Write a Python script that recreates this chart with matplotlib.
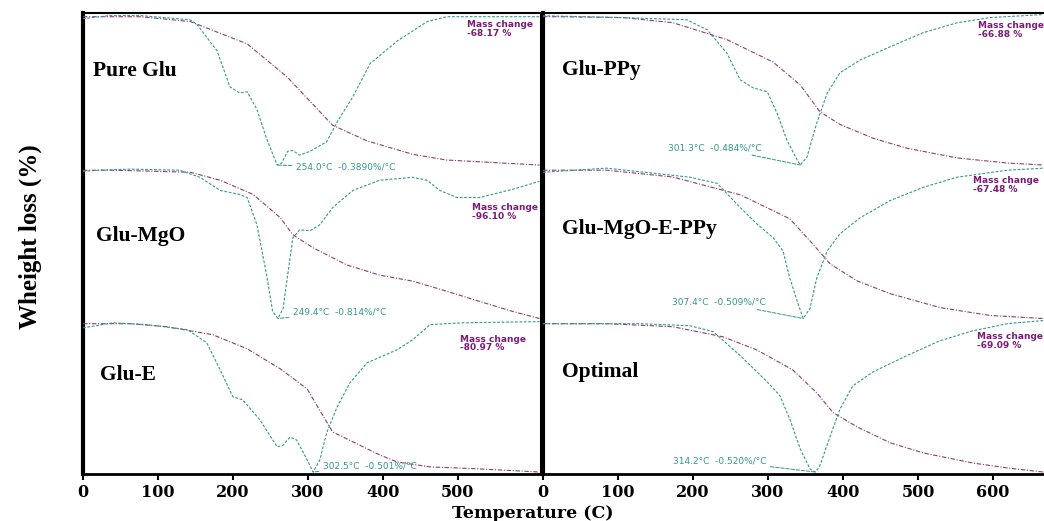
import matplotlib.pyplot as plt

# ---- values (T in C, TG in wt %, DTG in %/C) ----
names = ["Pure Glu", "Glu-MgO", "Glu-E", "Glu-PPy", "Glu-MgO-E-PPy", "Optimal"]
mass_change = ["-68.17", "-96.10", "-80.97", "-66.88", "-67.48", "-69.09"]
peak_temp = ["254.0", "249.4", "302.5", "301.3", "307.4", "314.2"]
peak_rate = ["-0.3890", "-0.814", "-0.501", "-0.484", "-0.509", "-0.520"]

# Pure Glu
pg_tg_T = [0, 76, 143, 219, 272, 333, 379, 440, 485, 609]
pg_tg = [100, 100, 97.8, 87.5, 72.4, 50.1, 42.9, 36.7, 34.1, 31.8]
pg_dtg_T = [0, 36, 76, 143, 152, 179, 196, 209, 219, 232, 245, 259, 265, 273,
            280, 289, 303, 325, 339, 360, 383, 419, 459, 485, 609]
pg_dtg = [-0.005, 0.003, 0.003, -0.008, -0.020, -0.090, -0.184, -0.200, -0.197,
          -0.243, -0.320, -0.389, -0.384, -0.353, -0.351, -0.363, -0.353, -0.328,
          -0.276, -0.210, -0.123, -0.064, -0.013, 0.0, 0.0]

# Glu-MgO
gm_tg_T = [0, 40, 143, 183, 227, 263, 280, 307, 352, 396, 440, 485, 529, 573, 609]
gm_tg = [100, 100, 98.7, 93.5, 84.3, 69.3, 58.2, 49.7, 38.6, 32.0, 28.1, 21.6,
         15.0, 8.5, 3.9]
gm_dtg_T = [0, 23, 63, 129, 156, 183, 209, 219, 232, 245, 253, 260, 267, 273, 280,
            289, 303, 316, 333, 360, 396, 440, 459, 476, 499, 529, 573, 609]
gm_dtg = [-0.006, 0.0, 0.006, 0.0, -0.039, -0.111, -0.133, -0.150, -0.299, -0.576,
          -0.775, -0.814, -0.759, -0.576, -0.371, -0.327, -0.332, -0.299, -0.205,
          -0.111, -0.055, -0.039, -0.055, -0.111, -0.150, -0.150, -0.105, -0.061]

# Glu-E
ge_tg_T = [0, 63, 111, 173, 219, 263, 299, 325, 333, 360, 396, 419, 463, 529, 609]
ge_tg = [100, 100, 98.4, 94.0, 86.3, 75.4, 64.4, 46.4, 40.9, 35.5, 28.3, 24.5,
         21.8, 20.7, 19.0]
ge_dtg_T = [0, 40, 85, 139, 165, 183, 200, 213, 236, 259, 267, 276, 285, 299, 307,
            316, 325, 339, 356, 379, 419, 440, 463, 507, 609]
ge_dtg = [-0.014, 0.003, -0.003, -0.020, -0.064, -0.156, -0.247, -0.257, -0.325,
          -0.416, -0.410, -0.383, -0.393, -0.460, -0.501, -0.460, -0.369, -0.281,
          -0.200, -0.132, -0.088, -0.054, -0.003, 0.003, 0.007]

# Glu-PPy
gp_tg_T = [0, 19, 107, 173, 245, 307, 343, 369, 396, 440, 485, 552, 619, 667]
gp_tg = [100, 100, 99.6, 97.3, 89.7, 79.5, 69.2, 57.2, 51.4, 45.2, 40.7, 36.3,
         34.0, 33.1]
gp_dtg_T = [0, 107, 192, 219, 245, 263, 280, 299, 312, 325, 339, 343, 352, 365,
            379, 396, 423, 463, 507, 552, 596, 667]
gp_dtg = [0.003, -0.003, -0.010, -0.043, -0.118, -0.206, -0.232, -0.245, -0.314,
          -0.402, -0.468, -0.484, -0.458, -0.347, -0.249, -0.183, -0.141, -0.098,
          -0.052, -0.020, -0.003, 0.007]

# Glu-MgO-E-PPy
gmep_tg_T = [0, 85, 173, 263, 329, 360, 383, 419, 463, 529, 596, 667]
gmep_tg = [100, 100, 96.9, 88.8, 77.9, 66.3, 57.3, 49.6, 43.8, 37.5, 33.9, 32.5]
gmep_dtg_T = [0, 85, 196, 232, 263, 285, 307, 320, 329, 339, 347, 356, 365, 379,
              396, 423, 463, 507, 552, 619, 667]
gmep_dtg = [-0.007, 0.007, -0.024, -0.045, -0.128, -0.184, -0.232, -0.277, -0.370,
            -0.450, -0.509, -0.474, -0.370, -0.277, -0.218, -0.163, -0.104, -0.059,
            -0.024, 0.0, 0.007]

# Optimal
op_tg_T = [0, 85, 173, 240, 285, 333, 365, 387, 419, 463, 507, 573, 619, 667]
op_tg = [100, 100, 98.6, 93.9, 87.8, 78.5, 67.8, 58.5, 51.9, 44.5, 39.8, 35.1,
         32.8, 30.9]
op_dtg_T = [0, 129, 196, 227, 263, 299, 316, 329, 343, 356, 363, 369, 383, 396,
            413, 440, 485, 529, 573, 619, 667]
op_dtg = [0.0, 0.0, -0.007, -0.028, -0.112, -0.204, -0.253, -0.334, -0.439, -0.509,
          -0.520, -0.499, -0.394, -0.299, -0.218, -0.169, -0.112, -0.060, -0.025,
          0.0, 0.011]

tg_T = [pg_tg_T, gm_tg_T, ge_tg_T, gp_tg_T, gmep_tg_T, op_tg_T]
tg = [pg_tg, gm_tg, ge_tg, gp_tg, gmep_tg, op_tg]
dtg_T = [pg_dtg_T, gm_dtg_T, ge_dtg_T, gp_dtg_T, gmep_dtg_T, op_dtg_T]
dtg = [pg_dtg, gm_dtg, ge_dtg, gp_dtg, gmep_dtg, op_dtg]

left_ticks = [0, 100, 200, 300, 400, 500]
right_ticks = [0, 100, 200, 300, 400, 500, 600]

# text placement inside each panel (axes fraction)
name_pos = [(0.022, 0.62), (0.028, 0.55), (0.037, 0.64),
            (0.038, 0.63), (0.038, 0.59), (0.038, 0.66)]
mass_pos = [(0.838, 0.955), (0.849, 0.76), (0.823, 0.905),
            (0.868, 0.945), (0.858, 0.935), (0.866, 0.92)]
peak_pos = [(0.465, -0.006), (0.459, 0.052), (0.524, 0.052),
            (0.25, 0.123), (0.257, 0.117), (0.259, 0.084)]

teal = "#33978e"
purple = "#8a3d72"
label_purple = "#7b1a78"
serif = "Liberation Serif"
wide_serif = "DejaVu Serif"

W, H = 1044, 521
fig = plt.figure(figsize=(W / 100, H / 100), dpi=100)

cols = [dict(x0=83, w=458, xmax=611, ticks=left_ticks),
        dict(x0=543, w=501, xmax=668, ticks=right_ticks)]
top, row_h = 13, 153.5

for c, col in enumerate(cols):
    frame = fig.add_axes([col["x0"] / W, 1 - (top + 3 * row_h) / H,
                          col["w"] / W, 3 * row_h / H])
    frame.set_xlim(0, col["xmax"])
    frame.set_ylim(0, 1)
    frame.set_yticks([])
    frame.set_xticks(col["ticks"])
    frame.set_xticklabels([str(t) for t in col["ticks"]], fontfamily=wide_serif,
                          fontweight="bold", fontsize=11.5)
    frame.tick_params(axis="x", direction="out", length=4, width=1.5, pad=3.5)
    frame.spines["left"].set_linewidth(3)
    frame.spines["top"].set_linewidth(1.5)
    frame.spines["bottom"].set_linewidth(2)
    if c == 0:
        frame.spines["right"].set_linewidth(1.5)
    else:
        frame.spines["right"].set_visible(False)

    for r in range(3):
        i = c * 3 + r
        ax = fig.add_axes([col["x0"] / W, 1 - (top + (r + 1) * row_h) / H,
                           col["w"] / W, row_h / H])
        ax.patch.set_alpha(0)
        ax2 = ax.twinx()

        loss = 100 - min(tg[i])
        ax.set_ylim(min(tg[i]) - 0.01 * loss, 100 + 0.025 * loss)
        dmin = min(dtg[i])
        ax2.set_ylim(dmin + 0.01 * dmin, -0.025 * dmin)
        for a in (ax, ax2):
            a.set_xlim(0, col["xmax"])
            a.axis("off")

        ax.plot(tg_T[i], tg[i], color=purple, lw=0.8,
                ls=(0, (4, 1.5, 1, 1.5)), clip_on=False)
        ax2.plot(dtg_T[i], dtg[i], color=teal, lw=0.8,
                 ls=(0, (2.5, 1.5)), clip_on=False)

        ax.text(name_pos[i][0], name_pos[i][1], names[i], transform=ax.transAxes,
                fontfamily=serif, fontweight="bold", fontsize=15.5,
                ha="left", va="center")
        ax.text(mass_pos[i][0], mass_pos[i][1],
                "Mass change\n" + mass_change[i] + " %", transform=ax.transAxes,
                fontsize=6.5, fontweight="bold", color=label_purple,
                ha="left", va="top", linespacing=0.95)

        k = dtg[i].index(dmin)
        ax2.annotate(peak_temp[i] + "°C  " + peak_rate[i] + "%/°C",
                     xy=(dtg_T[i][k], dmin), xycoords="data",
                     xytext=peak_pos[i], textcoords="axes fraction",
                     fontsize=6.5, color=teal, va="center", ha="left",
                     arrowprops=dict(arrowstyle="-", ls="--", lw=0.7,
                                     color=teal, shrinkA=1, shrinkB=0))

fig.text(30 / W, 1 - 237 / H, "Wheight loss (%)", rotation=90,
         fontfamily=serif, fontweight="bold", fontsize=18,
         ha="center", va="center")
fig.text(533 / W, 1 - 513 / H, "Temperature (C)", fontfamily=wide_serif,
         fontweight="bold", fontsize=12.5, ha="center", va="center")

fig.savefig("out.png", dpi=100)
